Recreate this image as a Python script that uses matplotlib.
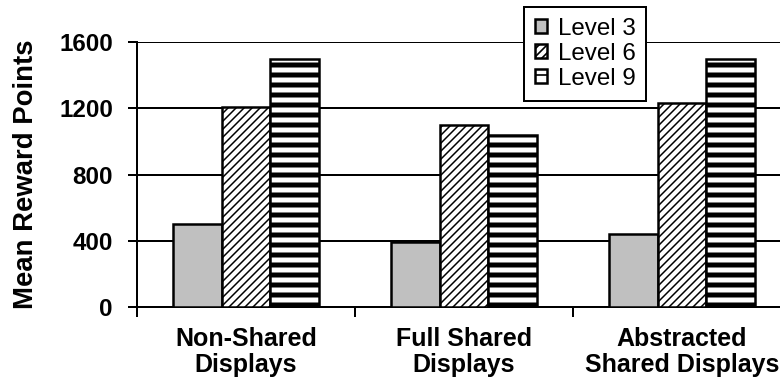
import numpy as np
import matplotlib
matplotlib.use('Agg')
import matplotlib.pyplot as plt

plt.rcParams['font.family'] = ['Liberation Sans', 'DejaVu Sans']

categories = ['Non-Shared\nDisplays', 'Full Shared\nDisplays', 'Abstracted\nShared Displays']
levels = ['Level 3', 'Level 6', 'Level 9']
level3 = [500, 390, 440]
level6 = [1210, 1100, 1230]
level9 = [1500, 1040, 1500]
yticks = [0, 400, 800, 1200, 1600]

fig = plt.figure(figsize=(6.5, 389 / 120), dpi=120)
# axes run past the right edge of the figure, so the last group is clipped
ax = fig.add_axes([137 / 780, 1 - 307 / 389, 654 / 780, 265 / 389])

x = np.arange(len(categories)) + 0.5
w = 0.222
styles = [
    dict(facecolor='#c0c0c0', hatch=None, hlw=1.0),
    dict(facecolor='white', hatch='/////', hlw=0.9),
    dict(facecolor='white', hatch='--', hlw=3.0),
]
series = [level3, level6, level9]
for k, (vals, st, lab) in enumerate(zip(series, styles, levels)):
    with plt.rc_context({'hatch.linewidth': st['hlw'], 'hatch.color': 'black'}):
        bars = ax.bar(x + (k - 1) * w, vals, width=w, facecolor=st['facecolor'],
                      edgecolor='black', linewidth=1.5, hatch=st['hatch'],
                      label=lab, zorder=3)
        for b in bars:
            if hasattr(b, 'set_hatch_linewidth'):
                b.set_hatch_linewidth(st['hlw'])

ax.set_xlim(0, 3)
ax.set_ylim(0, 1600)
ax.set_yticks(yticks)
ax.set_yticklabels([str(v) for v in yticks], fontsize=14.5, fontweight='bold')
ax.yaxis.grid(True, color='black', linewidth=1.2, zorder=0)
ax.set_axisbelow(True)

ax.set_xticks([0, 1, 2, 3])
ax.set_xticklabels([])
ax.set_xticks(x, minor=True)
ax.set_xticklabels(categories, minor=True, fontsize=15, fontweight='bold', linespacing=1.1)
ax.tick_params(axis='x', which='minor', length=0, pad=12)
ax.tick_params(axis='x', which='major', length=6, width=1.2, direction='out')
ax.tick_params(axis='y', length=5.4, width=1.2, direction='out', pad=9)

for s in ['top', 'right']:
    ax.spines[s].set_visible(False)
for s in ['left', 'bottom']:
    ax.spines[s].set_linewidth(1.2)

ax.set_ylabel('Mean Reward Points', fontsize=16.5, fontweight='bold', labelpad=12)

leg = fig.legend(loc='upper left', bbox_to_anchor=(524 / 780, 1 - 7 / 389),
                 fontsize=14.5, handlelength=0.5, handleheight=0.5,
                 handletextpad=0.45, labelspacing=0.12, borderpad=0.45,
                 borderaxespad=0, fancybox=False, framealpha=1,
                 edgecolor='black')
leg.get_frame().set_linewidth(1.2)

fig.savefig('out.png', dpi=120)
